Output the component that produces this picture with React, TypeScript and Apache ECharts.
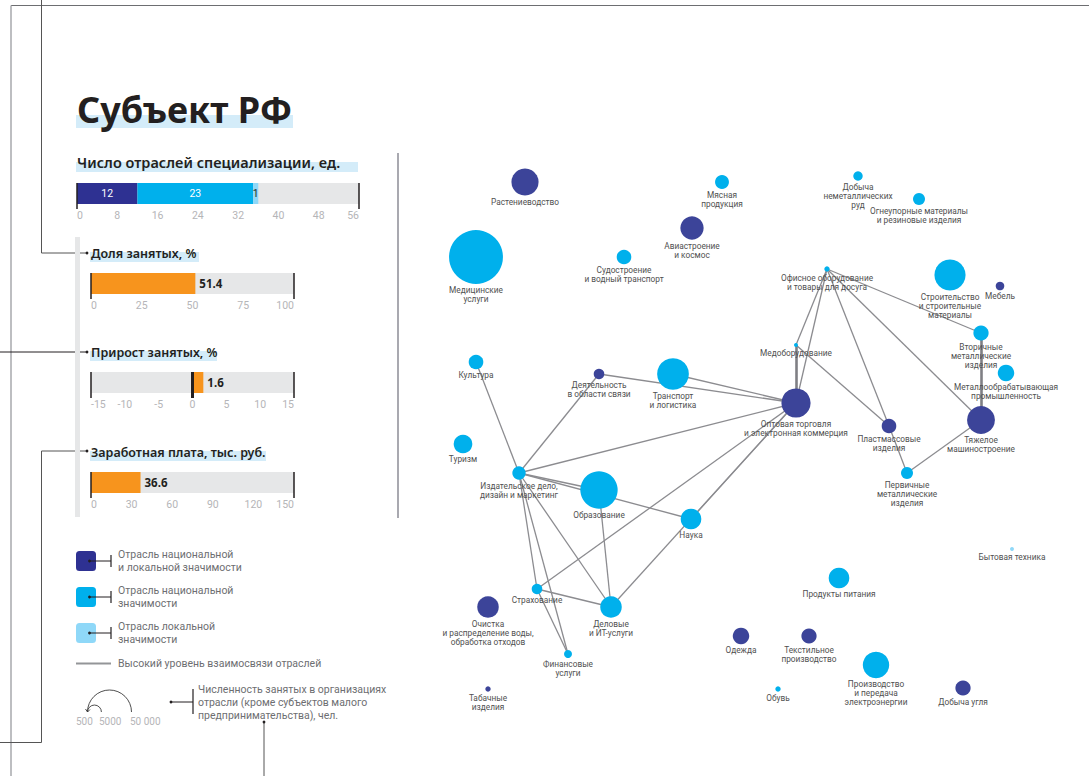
import { useEffect, useRef } from "react";
import * as echarts from "echarts";

const FONT = "Roboto, 'Noto Sans', sans-serif";
const HEAD = "'Noto Sans', Roboto, sans-serif";

const NAVY = "#3c4499";
const NAVY_BAR = "#2e3192";
const BLUE = "#00b0ec";
const LIGHT = "#8fd8f8";
const ORANGE = "#f7941d";
const TRACK = "#e6e7e8";
const TICK = "#b5b5b8";
const INK = "#231f20";
const GREY_TXT = "#6d6e71";

// ---------- Left panel data ----------
const specCounts = [12, 23, 1];
const specColors = [NAVY_BAR, BLUE, LIGHT];
const specLabelColors = ["#ffffff", "#ffffff", INK];
const specAxis = { min: 0, max: 56, interval: 8 };

const shareValue = [51.4];
const shareAxis = { min: 0, max: 100, interval: 25 };

const growthValue = [1.6];
const growthAxis = { min: -15, max: 15, interval: 5 };

const wageValue = [36.6];
const wageAxis = { min: 0, max: 150, interval: 30 };

// ---------- Network data ----------
const nodeNames = [
  "Растениеводство", "Мясная продукция", "Добыча неметаллических руд",
  "Огнеупорные материалы и резиновые изделия", "Авиастроение и космос",
  "Судостроение и водный транспорт", "Медицинские услуги",
  "Офисное оборудование и товары для досуга", "Строительство и строительные материалы",
  "Мебель", "Вторичные металлические изделия", "Медоборудование",
  "Металлообрабатывающая промышленность", "Культура", "Деятельность в области связи",
  "Транспорт и логистика", "Оптовая торговля и электронная коммерция",
  "Пластмассовые изделия", "Тяжелое машиностроение", "Туризм",
  "Издательское дело, дизайн и маркетинг", "Образование",
  "Первичные металлические изделия", "Наука", "Бытовая техника", "Страхование",
  "Продукты питания", "Очистка и распределение воды, обработка отходов",
  "Деловые и ИТ-услуги", "Одежда", "Текстильное производство", "Финансовые услуги",
  "Производство и передача электроэнергии", "Табачные изделия", "Обувь", "Добыча угля",
];
const nodeLabels = [
  "Растениеводство", "Мясная\nпродукция", "Добыча\nнеметаллических\nруд",
  "Огнеупорные материалы\nи резиновые изделия", "Авиастроение\nи космос",
  "Судостроение\nи водный транспорт", "Медицинские\nуслуги",
  "Офисное оборудование\nи товары для досуга", "Строительство\nи строительные\nматериалы",
  "Мебель", "Вторичные\nметаллические\nизделия", "Медоборудование",
  "Металлообрабатывающая\nпромышленность", "Культура", "Деятельность\nв области связи",
  "Транспорт\nи логистика", "Оптовая торговля\nи электронная коммерция",
  "Пластмассовые\nизделия", "Тяжелое\nмашиностроение", "Туризм",
  "Издательское дело,\nдизайн и маркетинг", "Образование",
  "Первичные\nметаллические\nизделия", "Наука", "Бытовая техника", "Страхование",
  "Продукты питания", "Очистка\nи распределение воды,\nобработка отходов",
  "Деловые\nи ИТ-услуги", "Одежда", "Текстильное\nпроизводство", "Финансовые\nуслуги",
  "Производство\nи передача\nэлектроэнергии", "Табачные\nизделия", "Обувь", "Добыча угля",
];
const nodeX = [525, 722, 858, 919, 692, 624, 476, 827, 950, 1000, 981, 796, 1006, 476, 599, 673, 796, 889, 981, 463, 519, 599, 907, 691, 1012, 537, 839, 488, 611, 741, 809, 568, 876, 488, 778, 963];
const nodeY = [182, 182, 176, 199, 228, 257, 257, 269, 275, 286, 333, 345, 373, 362, 374, 374, 403, 426, 420, 444, 473, 490, 473, 519, 549, 589, 578, 607, 607, 636, 636, 654, 665, 689, 689, 688];
const nodeEmployees = [19000, 5000, 2300, 3700, 14000, 5500, 75000, 750, 25000, 1900, 6000, 400, 7000, 5500, 2900, 26000, 22000, 5500, 20000, 9000, 4600, 36000, 3700, 11000, 400, 2900, 11000, 12000, 12000, 7000, 6000, 1650, 18000, 750, 750, 6000];
// 0 = national & local, 1 = national, 2 = local
const nodeType = [0, 1, 1, 1, 0, 1, 1, 1, 1, 0, 1, 1, 1, 1, 0, 1, 0, 0, 0, 1, 1, 1, 1, 1, 2, 1, 1, 0, 1, 0, 0, 1, 1, 0, 1, 0];
const typeColors = [NAVY, BLUE, LIGHT];

const links: [string, string][] = [
  ["Офисное оборудование и товары для досуга", "Медоборудование"],
  ["Офисное оборудование и товары для досуга", "Оптовая торговля и электронная коммерция"],
  ["Офисное оборудование и товары для досуга", "Пластмассовые изделия"],
  ["Офисное оборудование и товары для досуга", "Тяжелое машиностроение"],
  ["Офисное оборудование и товары для досуга", "Вторичные металлические изделия"],
  ["Медоборудование", "Пластмассовые изделия"],
  ["Тяжелое машиностроение", "Первичные металлические изделия"],
  ["Пластмассовые изделия", "Первичные металлические изделия"],
  ["Оптовая торговля и электронная коммерция", "Деятельность в области связи"],
  ["Оптовая торговля и электронная коммерция", "Транспорт и логистика"],
  ["Оптовая торговля и электронная коммерция", "Издательское дело, дизайн и маркетинг"],
  ["Оптовая торговля и электронная коммерция", "Страхование"],
  ["Оптовая торговля и электронная коммерция", "Деловые и ИТ-услуги"],
  ["Оптовая торговля и электронная коммерция", "Наука"],
  ["Издательское дело, дизайн и маркетинг", "Культура"],
  ["Издательское дело, дизайн и маркетинг", "Деятельность в области связи"],
  ["Издательское дело, дизайн и маркетинг", "Наука"],
  ["Издательское дело, дизайн и маркетинг", "Образование"],
  ["Издательское дело, дизайн и маркетинг", "Деловые и ИТ-услуги"],
  ["Издательское дело, дизайн и маркетинг", "Страхование"],
  ["Издательское дело, дизайн и маркетинг", "Финансовые услуги"],
  ["Страхование", "Финансовые услуги"],
  ["Страхование", "Деловые и ИТ-услуги"],
  ["Образование", "Деловые и ИТ-услуги"],
];
const strongLinks: [string, string][] = [
  ["Медоборудование", "Оптовая торговля и электронная коммерция"],
  ["Вторичные металлические изделия", "Тяжелое машиностроение"],
];

// size legend
const legendSizes = [500, 5000, 50000];
const legendSizeLabels = ["500", "5000", "50 000"];
const SIZE_REF = 50000;
const SIZE_REF_D = 44;
const sizeOf = (v: number) => SIZE_REF_D * Math.sqrt(v / SIZE_REF);

// ---------- layout (pixels) ----------
const barGrids = [
  { left: 77, top: 183, width: 282, height: 21 },
  { left: 91, top: 273, width: 203, height: 21 },
  { left: 91, top: 372, width: 203, height: 21 },
  { left: 91, top: 472, width: 203, height: 21 },
];

function valueAxis(gridIndex: number, ax: { min: number; max: number; interval: number }) {
  return {
    type: "value",
    gridIndex,
    min: ax.min,
    max: ax.max,
    interval: ax.interval,
    axisLine: { show: false },
    axisTick: { show: false },
    splitLine: { show: false },
    axisLabel: {
      color: TICK,
      fontSize: 10.5,
      fontFamily: FONT,
      margin: 6,
      alignMinLabel: "left",
      alignMaxLabel: "right",
      showMinLabel: true,
      showMaxLabel: true,
    },
  };
}

function titleBlock(x: number, y: number, text: string, size: number, hlW: number, hlY: number, hlH: number, weight: any = 600) {
  return [
    { type: "rect", shape: { x: x - 1, y: hlY, width: hlW, height: hlH }, style: { fill: "#d4ecf9" }, z: 1 },
    {
      type: "text", x, y, z: 2,
      style: { text, fill: INK, fontFamily: HEAD, fontSize: size, fontWeight: weight, verticalAlign: "middle", align: "left" },
    },
  ];
}

function dot(x: number, y: number) {
  return { type: "circle", shape: { cx: x, cy: y, r: 1.4 }, style: { fill: INK } };
}

function baseGraphics(): any[] {
  const g: any[] = [];
  // frame
  g.push({ type: "line", shape: { x1: 11, y1: 5.5, x2: 1089, y2: 5.5 }, style: { stroke: "#6d6e71", lineWidth: 1 } });
  g.push({ type: "line", shape: { x1: 11, y1: 5.5, x2: 11, y2: 776 }, style: { stroke: "#a7a9ac", lineWidth: 1.5 } });
  // connectors
  g.push({ type: "polyline", shape: { points: [[41.5, 0], [41.5, 253], [86, 253]] }, style: { stroke: "#555", lineWidth: 1, fill: null } });
  g.push(dot(87, 253));
  g.push({ type: "line", shape: { x1: 0, y1: 352, x2: 86, y2: 352 }, style: { stroke: INK, lineWidth: 1 } });
  g.push(dot(87, 352));
  g.push({ type: "polyline", shape: { points: [[86, 451], [41.5, 451], [41.5, 742.5], [0, 742.5]] }, style: { stroke: "#555", lineWidth: 1, fill: null } });
  g.push(dot(87, 451));
  g.push({ type: "line", shape: { x1: 264, y1: 722, x2: 264, y2: 776 }, style: { stroke: "#555", lineWidth: 1 } });
  g.push(dot(264, 722));
  // side bar + separator
  g.push({ type: "rect", shape: { x: 75, y: 237, width: 5, height: 280 }, style: { fill: TRACK } });
  g.push({ type: "rect", shape: { x: 397, y: 153, width: 2, height: 365 }, style: { fill: "#a9a9b0" } });
  // titles
  g.push(...titleBlock(77, 109, "Субъект РФ", 36, 217, 115, 13, "bold"));
  g.push(...titleBlock(77, 162, "Число отраслей специализации, ед.", 14.5, 282, 162, 10));
  g.push(...titleBlock(91, 253, "Доля занятых, %", 12.5, 109, 252, 10));
  g.push(...titleBlock(91, 352, "Прирост занятых, %", 12.5, 127, 351, 10));
  g.push(...titleBlock(91, 452, "Заработная плата, тыс. руб.", 12.5, 176, 451, 10));

  // legend: categories
  const legendTexts = [
    "Отрасль национальной\nи локальной значимости",
    "Отрасль национальной\nзначимости",
    "Отрасль локальной\nзначимости",
  ];
  const legendY = [561, 597, 633];
  legendTexts.forEach((t, i) => {
    const cy = legendY[i];
    g.push({ type: "rect", shape: { x: 76, y: cy - 10, width: 20, height: 20, r: 3.5 }, style: { fill: i === 0 ? NAVY_BAR : typeColors[i] } });
    g.push(dot(89.5, cy));
    g.push({ type: "line", shape: { x1: 89.5, y1: cy, x2: 111, y2: cy }, style: { stroke: INK, lineWidth: 1 } });
    g.push({ type: "line", shape: { x1: 111, y1: cy - 6, x2: 111, y2: cy + 6 }, style: { stroke: INK, lineWidth: 1.2 } });
    g.push({
      type: "text", x: 118, y: cy,
      style: { text: t, fill: GREY_TXT, fontFamily: FONT, fontSize: 10.5, lineHeight: 13.3, verticalAlign: "middle", align: "left" },
    });
  });
  // legend: link
  g.push({ type: "line", shape: { x1: 76, y1: 663.5, x2: 111, y2: 663.5 }, style: { stroke: "#939598", lineWidth: 2 } });
  g.push({
    type: "text", x: 118, y: 663.5,
    style: { text: "Высокий уровень взаимосвязи отраслей", fill: GREY_TXT, fontFamily: FONT, fontSize: 10.5, verticalAlign: "middle", align: "left" },
  });
  // legend: sizes
  const baseY = 712;
  const leftX = 87.5;
  legendSizes.forEach((v) => {
    const r = sizeOf(v) / 2;
    if (r < 3) return;
    g.push({
      type: "arc",
      shape: { cx: leftX + r, cy: baseY, r, startAngle: Math.PI, endAngle: 2 * Math.PI, clockwise: true },
      style: { stroke: "#3a3a3a", lineWidth: 0.9, fill: null },
    });
  });
  g.push({ type: "polyline", shape: { points: [[leftX - 2, baseY - 3], [leftX, baseY], [leftX + 2.5, baseY - 2.5]] }, style: { stroke: "#3a3a3a", lineWidth: 0.9, fill: null } });
  const sizeLabelX = [76, 99, 130];
  legendSizeLabels.forEach((t, i) => {
    g.push({
      type: "text", x: sizeLabelX[i], y: 721,
      style: { text: t, fill: TICK, fontFamily: FONT, fontSize: 10, verticalAlign: "middle", align: "left" },
    });
  });
  g.push(dot(171, 702));
  g.push({ type: "line", shape: { x1: 171, y1: 702, x2: 193, y2: 702 }, style: { stroke: INK, lineWidth: 1 } });
  g.push({ type: "line", shape: { x1: 193, y1: 689, x2: 193, y2: 714 }, style: { stroke: INK, lineWidth: 1.2 } });
  g.push({
    type: "text", x: 198, y: 702,
    style: {
      text: "Численность занятых в организациях\nотрасли (кроме субъектов малого\nпредпринимательства), чел.",
      fill: GREY_TXT, fontFamily: FONT, fontSize: 10.5, lineHeight: 13, verticalAlign: "middle", align: "left",
    },
  });
  return g;
}

export default function App() {
  const ref = useRef<HTMLDivElement>(null);
  useEffect(() => {
    if (!ref.current) return;
    const chart = echarts.init(ref.current, undefined, { renderer: "svg" });

    const axesDefs = [specAxis, shareAxis, growthAxis, wageAxis];
    const xAxes: any[] = axesDefs.map((a, i) => valueAxis(i, a));
    const yAxes: any[] = axesDefs.map((_, i) => ({ type: "category", gridIndex: i, data: ["v"], show: false }));
    xAxes.push({ type: "value", gridIndex: 4, min: 0, max: 1089, show: false });
    yAxes.push({ type: "value", gridIndex: 4, min: 0, max: 776, inverse: true, show: false });

    const grids: any[] = barGrids.map((b) => ({ ...b }));
    grids.push({ left: 0, top: 0, width: 1089, height: 776 });

    const series: any[] = [];
    specCounts.forEach((v, i) => {
      series.push({
        type: "bar", xAxisIndex: 0, yAxisIndex: 0, stack: "spec", data: [v], barWidth: "100%",
        itemStyle: { color: specColors[i] },
        showBackground: i === 0, backgroundStyle: { color: TRACK },
        label: { show: true, position: "inside", color: specLabelColors[i], fontSize: 10.5, fontFamily: FONT },
        silent: true,
      });
    });
    [shareValue, growthValue, wageValue].forEach((d, k) => {
      series.push({
        type: "bar", xAxisIndex: k + 1, yAxisIndex: k + 1, data: d, barWidth: "100%",
        itemStyle: { color: ORANGE },
        showBackground: true, backgroundStyle: { color: TRACK },
        label: { show: true, position: "right", distance: 4, color: INK, fontSize: 11.5, fontWeight: "bold", fontFamily: HEAD },
        silent: true,
      });
    });

    const nameIndex: Record<string, number> = {};
    nodeNames.forEach((n, i) => (nameIndex[n] = i));
    const graphLinks = [
      ...links.map(([s, t]) => ({ source: nameIndex[s], target: nameIndex[t] })),
      ...strongLinks.map(([s, t]) => ({ source: nameIndex[s], target: nameIndex[t], lineStyle: { width: 2.6, color: "#7f7f84" } })),
    ];

    series.push({
      type: "graph",
      coordinateSystem: "cartesian2d",
      xAxisIndex: 4,
      yAxisIndex: 4,
      data: nodeNames.map((n, i) => ({
        name: n,
        value: [nodeX[i], nodeY[i]],
        symbolSize: sizeOf(nodeEmployees[i]),
        itemStyle: { color: typeColors[nodeType[i]] },
      })),
      links: graphLinks,
      symbol: "circle",
      lineStyle: { color: "#8c8c90", width: 1.3, opacity: 1, curveness: 0 },
      label: {
        show: true,
        position: "bottom",
        distance: 1.5,
        fontSize: 8.3,
        lineHeight: 9,
        color: "#505050",
        fontFamily: FONT,
        align: "center",
        formatter: (p: any) => nodeLabels[p.dataIndex],
      },
      emphasis: { disabled: true },
      roam: false,
      silent: true,
      z: 3,
    });

    chart.setOption({
      animation: false,
      grid: grids,
      xAxis: xAxes,
      yAxis: yAxes,
      series,
      graphic: { elements: baseGraphics() },
    });

    // end markers and zero marker computed from axes
    const extra: any[] = [];
    axesDefs.forEach((a, i) => {
      const b = barGrids[i];
      [a.min, a.max].forEach((v) => {
        const px = chart.convertToPixel({ xAxisIndex: i } as any, v) as number;
        extra.push({ type: "line", shape: { x1: px, y1: b.top, x2: px, y2: b.top + b.height + 5 }, style: { stroke: INK, lineWidth: 1.5 }, z: 10 });
      });
    });
    {
      const b = barGrids[2];
      const px0 = chart.convertToPixel({ xAxisIndex: 2 } as any, 0) as number;
      extra.push({ type: "rect", shape: { x: px0 - 1.5, y: b.top, width: 3, height: b.height + 5 }, style: { fill: INK }, z: 10 });
    }
    chart.setOption({ graphic: { elements: [...baseGraphics(), ...extra] } }, { replaceMerge: ["graphic"] } as any);

    return () => chart.dispose();
  }, []);
  return <div ref={ref} style={{ position: "fixed", left: 0, top: 0, width: 1089, height: 776, background: "#fff" }} />;
}
